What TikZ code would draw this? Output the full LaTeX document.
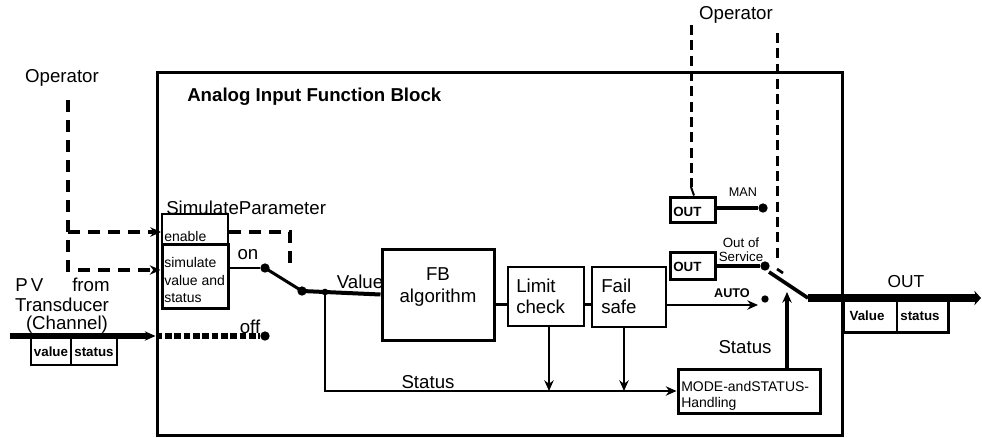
\documentclass[tikz,border=0pt]{standalone}
\usepackage{fontspec}
\setmainfont{Liberation Sans}
\usetikzlibrary{arrows.meta,fit}
\begin{document}
\begin{tikzpicture}[x=0.75pt,y=-0.75pt,
  big/.style={font=\fontsize{14}{17}\selectfont, inner sep=0},
  small/.style={font=\fontsize{10}{12}\selectfont, inner sep=0},
  smallb/.style={font=\fontsize{10}{12}\selectfont\bfseries, inner sep=0},
  blk/.style={draw, line width=2pt, inner sep=0},
  dot/.style={circle, fill, inner sep=0, minimum size=7pt},
  opdash/.style={line width=3.5pt, dash pattern=on 9pt off 6pt},
  opdashR/.style={line width=2.25pt, dash pattern=on 7.5pt off 4pt},
  arr/.style={-{Stealth[length=8pt,width=7pt]}},
]
\useasboundingbox (0,0) rectangle (982,437);

% main block
\node[blk, line width=2.25pt, fit={(157,72)(842,435)}] (main) {};
\node[big, font=\fontsize{14}{17}\selectfont\bfseries, anchor=west] (title) at (187,97) {Analog Input Function Block};

% left operator and simulate parameter
\node[big] (opL) at (62,78) {Operator};
\coordinate (opLa) at (68,100);
\node[blk, line width=1.5pt, fit={(162,214)(228,244)}] (en) {};
\node[blk, line width=2.25pt, fit={(162,244)(228,308)}] (sim) {};
\node[small, anchor=west, font=\fontsize{10.5}{12}\selectfont] at (164,236) {enable};
\node[small, anchor=west, align=left, font=\fontsize{10.5}{13}\selectfont] at (164,280) {simulate\\value and\\ status};
\node[big, anchor=west] (simp) at (166,208) {SimulateParameter};

\draw[opdash, arr] (opLa) |- (sim.west |- 0,270);
\draw[opdash, arr] (68,232) -- (en.west |- 0,232);
\coordinate (enEnd) at (290,268);
\draw[opdash] (en.east |- 0,232) -| (enEnd);

% switch on/off
\node[dot] (on) at (265,268) {};
\node[dot] (piv) at (302,291) {};
\node[dot, minimum size=5pt] (br) at (325,292) {};
\node[dot] (off) at (265,336) {};
\node[big] at (248,255) {on};
\node[big] at (250,327) {off};
\draw[line width=2pt] (sim.east |- on) -- (on);
\draw[line width=2.25pt] (on.center) -- (piv.center);

% FB, limit, fail
\node[blk, line width=2.25pt, fit={(382,249)(494,340)}] (FB) {};
\node[big, align=center] at (438,287) {FB\\algorithm};
\node[blk, line width=1.75pt, fit={(508,267)(584,326)}] (LC) {};
\node[big, align=left, anchor=west, font=\fontsize{14}{16}\selectfont] at (516,296) {Limit\\check};
\node[blk, line width=1.75pt, fit={(592,267)(666,327)}] (FS) {};
\node[big, align=left, anchor=west, font=\fontsize{14}{16}\selectfont] at (601,296) {Fail\\safe};

\draw[line width=3pt] (piv.center) -- (br.center) -- (FB.west);
\node[big] at (360,282) {Value};
\draw[line width=2.25pt] (FB.east |- 0,304) -- (LC.west |- 0,304);
\draw[line width=2.25pt] (LC.east |- 0,304) -- (FS.west |- 0,304);

% mode and status handling
\node[blk, line width=2.25pt, fit={(678,369)(820,413)}] (mode) {};
\node[anchor=west, align=left, font=\fontsize{10.5}{12}\selectfont, inner sep=0] at (681,396) {MODE-andSTATUS-\\Handling};
\draw[line width=2pt, arr] (br.center) |- (mode.west);
\node[big] at (428,382) {Status};
\draw[line width=2pt, arr] (549,0 |- LC.south) -- (549,391);
\draw[line width=2pt, arr] (624,0 |- FS.south) -- (624,391);

% input
\coordinate (pvin) at (10,336);
\draw[line width=4pt, arr] (pvin) -- (main.west |- 0,336);
\draw[line width=4pt, dash pattern=on 5pt off 2pt] (main.west |- 0,336) -- (off);
\node[blk, line width=1.75pt, fit={(31,336)(117,365)}] (ivs) {};
\node[smallb] at (51,352) {value};
\node[smallb] at (94,352) {status};
\draw[line width=1.75pt] (71,0 |- ivs.north) -- (71,0 |- ivs.south);
\node[big, anchor=west] at (15,285) {P\,V};
\node[big, anchor=west] at (72,285) {from};
\node[big] at (62,305) {Transducer};
\node[big] at (67,325) {(Channel)};

% right operator, MAN, out of service, AUTO
\node[big] (opR) at (736,15) {Operator};
\node[blk, line width=2.25pt, fit={(670,197)(715,222)}] (man) {};
\node[smallb, anchor=west] at (673,212) {OUT};
\node[dot] (mand) at (763,208) {};
\draw[line width=3pt] (man.east |- mand) -- (mand);
\node[small, font=\fontsize{9.5}{11}\selectfont] at (743,192) {MAN};
\coordinate (opR1) at (691,25);
\coordinate (opR2) at (691,187);
\draw[opdashR] (opR1) -- (opR2);
\draw[line width=1.5pt] (opR2) -- (man.north -| 694,0);
\coordinate (opR3) at (777,33);
\coordinate (opR4) at (777,258);
\draw[opdashR] (opR3) -- (opR4);
\coordinate (sd1) at (777,269);
\coordinate (sd2) at (783,273);
\draw[line width=2pt] (sd1) -- (sd2);

\node[blk, line width=2.25pt, fit={(670,252)(715,279)}] (oos) {};
\node[smallb, anchor=west] at (673,267) {OUT};
\node[dot] (oosd) at (765,266) {};
\draw[line width=2.5pt] (oos.east |- oosd) -- (oosd);
\node[small, align=center, font=\fontsize{10}{10.5}\selectfont] at (741,250) {Out of\\Service};

\node[dot, minimum size=5.5pt] (autod) at (765,299) {};
\draw[line width=2pt, arr] (FS.east |- 0,305) -- (758,305);
\node[smallb, font=\fontsize{9.5}{11}\selectfont\bfseries] at (732,293) {AUTO};

% output switch
\coordinate (sw1) at (769,272);
\coordinate (sw2) at (808,298);
\coordinate (outEnd) at (981,298);
\draw[line width=2.75pt] (sw1) -- (sw2);
\draw[line width=6pt, -{Stealth[length=5pt,width=11pt]}] (sw2) -- (outEnd);
\draw[line width=3.5pt, arr] (787,0 |- mode.north) -- (787,292);
\node[big] at (745,347) {Status};

% output value/status
\node[blk, line width=2.25pt, fit={(843,298)(948,332)}] (ovs) {};
\draw[line width=1pt] (897,0 |- ovs.north) -- (897,0 |- ovs.south);
\node[smallb] at (867,316) {Value};
\node[smallb] at (920,316) {status};
\node[big, font=\fontsize{13}{15}\selectfont] at (906,282) {OUT};
\end{tikzpicture}
\end{document}
